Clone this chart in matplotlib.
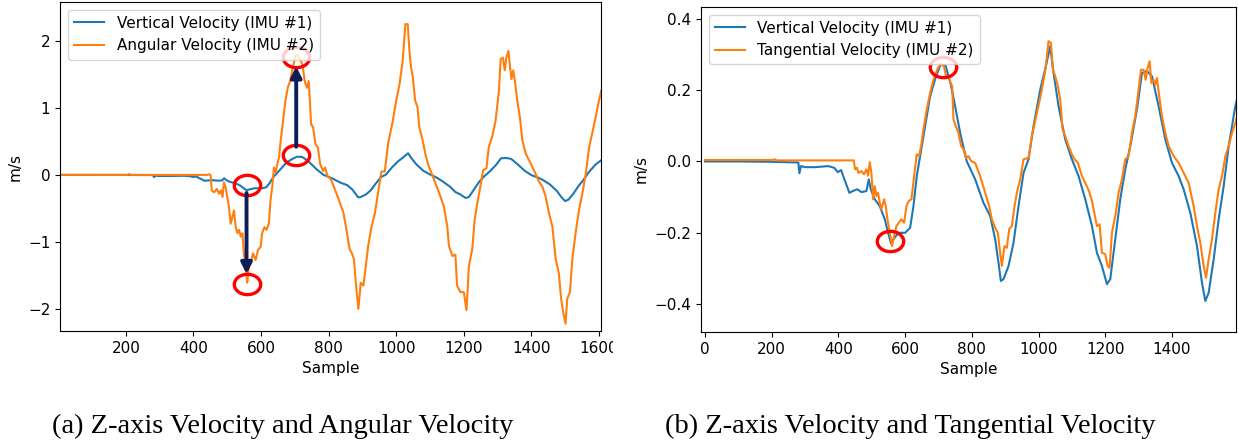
import numpy as np
import matplotlib
matplotlib.use("Agg")
import matplotlib.pyplot as plt
from matplotlib.path import Path
from matplotlib.patches import Rectangle

# Vertical velocity from IMU #1 (shared by both panels)
sample_v = [0, 100, 200, 280, 283, 288, 300, 330, 370, 388, 398, 408, 418, 433, 443, 457,
            469, 484, 491, 497, 509, 524, 539, 549, 558, 565, 580, 600, 615, 625, 635, 645,
            660, 675, 691, 706, 721, 736, 751, 765, 785, 810, 835, 855, 870, 880, 887, 895,
            910, 925, 940, 955, 970, 985, 1005, 1022, 1035, 1045, 1060, 1080, 1100, 1120,
            1140, 1160, 1175, 1190, 1205, 1215, 1230, 1245, 1260, 1275, 1295, 1310, 1325,
            1340, 1360, 1380, 1400, 1420, 1435, 1455, 1475, 1490, 1500, 1510, 1525, 1540,
            1555, 1570, 1590, 1607]
vertical_vel = [0.0, 0.0, -0.001, -0.003, -0.033, -0.013, -0.016, -0.016, -0.013, -0.018,
                -0.03, -0.024, -0.05, -0.088, -0.083, -0.078, -0.086, -0.083, -0.05, -0.078,
                -0.106, -0.125, -0.162, -0.2, -0.23, -0.218, -0.2, -0.2, -0.186, -0.125,
                -0.041, 0.015, 0.099, 0.183, 0.234, 0.271, 0.269, 0.22, 0.15, 0.08, 0.0,
                -0.05, -0.116, -0.153, -0.218, -0.284, -0.335, -0.33, -0.293, -0.228,
                -0.125, -0.032, 0.006, 0.099, 0.201, 0.267, 0.323, 0.248, 0.155, 0.062,
                0.006, -0.041, -0.106, -0.18, -0.256, -0.293, -0.344, -0.33, -0.218,
                -0.106, -0.022, 0.043, 0.146, 0.248, 0.253, 0.239, 0.155, 0.062, -0.004,
                -0.041, -0.078, -0.144, -0.237, -0.34, -0.391, -0.368, -0.274, -0.162,
                -0.069, 0.043, 0.155, 0.22]

# Angular velocity from IMU #2
sample_a = [0, 205, 210, 215, 440, 446, 451, 454, 461, 469, 476, 481, 486, 490, 495, 500,
            505, 510, 515, 520, 525, 530, 535, 540, 545, 549, 554, 559, 564, 569, 576, 584,
            591, 599, 603, 610, 616, 623, 628, 633, 638, 643, 648, 653, 658, 665, 672, 679,
            686, 694, 701, 708, 716, 723, 729, 736, 741, 744, 748, 754, 761, 768, 775, 783,
            790, 797, 805, 815, 830, 844, 854, 862, 868, 875, 881, 888, 895, 903, 910, 917,
            927, 937, 946, 956, 966, 976, 990, 1000, 1010, 1019, 1027, 1034, 1039, 1044,
            1049, 1056, 1063, 1068, 1078, 1088, 1097, 1112, 1127, 1141, 1151, 1156, 1166,
            1175, 1180, 1190, 1200, 1208, 1215, 1225, 1232, 1240, 1249, 1257, 1267, 1274,
            1284, 1294, 1304, 1309, 1316, 1321, 1326, 1332, 1337, 1341, 1346, 1351, 1358,
            1366, 1373, 1383, 1398, 1412, 1422, 1432, 1442, 1452, 1462, 1472, 1481, 1488,
            1494, 1501, 1506, 1514, 1521, 1531, 1541, 1551, 1561, 1571, 1580, 1590, 1600,
            1607]
angular_vel = [0.0, 0.0, 0.012, 0.0, 0.0, 0.01, -0.01, -0.23, -0.26, -0.21, -0.28, -0.23,
               -0.33, -0.11, -0.18, -0.33, -0.48, -0.73, -0.63, -0.53, -0.78, -0.87, -0.82,
               -0.92, -0.87, -1.17, -1.32, -1.61, -1.37, -1.32, -1.17, -1.27, -1.12, -1.07,
               -0.87, -0.78, -0.82, -0.73, -0.38, -0.18, 0.11, 0.04, 0.16, 0.26, 0.51, 0.80,
               1.10, 1.30, 1.40, 1.60, 1.77, 1.79, 1.72, 1.64, 1.40, 1.30, 1.40, 1.15, 0.76,
               0.71, 0.46, 0.41, 0.16, 0.06, 0.11, -0.03, -0.05, -0.17, -0.37, -0.57, -0.86,
               -1.11, -1.16, -1.26, -1.65, -2.0, -1.61, -1.65, -1.36, -1.06, -0.77, -0.57,
               -0.27, 0.05, 0.05, 0.47, 0.81, 1.11, 1.36, 1.70, 2.25, 2.25, 1.85, 1.6, 1.46,
               1.11, 1.01, 0.72, 0.52, 0.27, 0.12, -0.07, -0.27, -0.47, -0.77, -1.06, -1.21,
               -1.19, -1.65, -1.75, -1.75, -2.02, -1.36, -1.11, -0.67, -0.42, -0.17, 0.07,
               0.10, 0.42, 0.57, 0.81, 1.26, 1.73, 1.75, 1.56, 1.75, 1.85, 1.6, 1.43, 1.56,
               1.41, 1.11, 0.86, 0.52, 0.32, 0.17, 0.02, -0.10, -0.17, -0.32, -0.57, -0.77,
               -1.26, -1.46, -1.85, -2.05, -2.22, -1.85, -1.75, -1.26, -0.86, -0.52, -0.27,
               0.02, 0.42, 0.62, 0.86, 1.11, 1.26]

# Tangential velocity from IMU #2
sample_t = [0, 200, 210, 215, 446, 450, 456, 460, 469, 477, 484, 489, 494, 499, 504, 509,
            514, 519, 524, 529, 537, 542, 547, 554, 561, 567, 574, 581, 589, 597, 604, 611,
            619, 627, 635, 642, 648, 655, 665, 675, 685, 696, 706, 716, 723, 731, 736, 741,
            745, 752, 760, 768, 775, 782, 790, 798, 810, 825, 840, 852, 860, 870, 878, 885,
            890, 898, 905, 912, 920, 928, 935, 945, 955, 970, 980, 995, 1008, 1020, 1030,
            1037, 1043, 1050, 1058, 1065, 1072, 1080, 1090, 1098, 1108, 1118, 1130, 1140,
            1150, 1160, 1165, 1175, 1183, 1190, 1200, 1207, 1213, 1220, 1230, 1240, 1250,
            1260, 1270, 1280, 1290, 1300, 1307, 1315, 1321, 1327, 1333, 1338, 1345, 1350,
            1355, 1363, 1370, 1380, 1390, 1405, 1420, 1435, 1450, 1465, 1475, 1485, 1495,
            1502, 1510, 1520, 1530, 1540, 1550, 1560, 1570, 1580, 1590, 1600]
tangential_vel = [0.004, 0.004, 0.006, 0.003, 0.003, -0.022, -0.018, -0.032, -0.027, -0.036,
                  -0.022, -0.04, -0.002, -0.032, -0.106, -0.069, -0.097, -0.088, -0.116,
                  -0.134, -0.106, -0.125, -0.162, -0.2, -0.237, -0.209, -0.181, -0.172,
                  -0.162, -0.172, -0.125, -0.111, -0.106, -0.041, 0.02, 0.015, 0.043, 0.09,
                  0.146, 0.192, 0.229, 0.257, 0.274, 0.267, 0.239, 0.234, 0.22, 0.211, 0.118,
                  0.099, 0.08, 0.043, 0.034, 0.01, 0.015, 0.001, -0.004, -0.041, -0.088,
                  -0.125, -0.162, -0.186, -0.2, -0.256, -0.293, -0.237, -0.242, -0.19,
                  -0.181, -0.125, -0.088, -0.05, 0.006, 0.01, 0.071, 0.136, 0.192, 0.253,
                  0.337, 0.332, 0.257, 0.239, 0.211, 0.174, 0.09, 0.071, 0.043, 0.024, 0.006,
                  -0.004, -0.041, -0.06, -0.08, -0.11, -0.134, -0.181, -0.176, -0.256,
                  -0.26, -0.293, -0.298, -0.2, -0.153, -0.088, -0.05, 0.006, 0.015, 0.08,
                  0.127, 0.201, 0.257, 0.257, 0.229, 0.262, 0.281, 0.22, 0.229, 0.215, 0.234,
                  0.174, 0.127, 0.08, 0.043, 0.015, -0.004, -0.032, -0.06, -0.125, -0.181,
                  -0.228, -0.293, -0.326, -0.274, -0.218, -0.144, -0.078, -0.041, 0.015,
                  0.043, 0.08, 0.108, 0.14]

# highlighted points (sample, value)
marks_a = [(557, -0.15), (557, -1.63), (704, 0.29), (704, 1.76)]
marks_t = [(554, -0.223), (714, 0.266)]
# arrows from vertical velocity to angular velocity: (sample, start, end)
arrows_a = [(557, -0.27, -1.48), (704, 0.42, 1.62)]

captions = ["(a) Z-axis Velocity and Angular Velocity",
            "(b) Z-axis Velocity and Tangential Velocity"]

plt.rcParams["font.size"] = 11

# slightly wide ellipse used as the ring marker
t = np.linspace(0, 2 * np.pi, 64)
ring = Path(np.column_stack([1.3 * np.cos(t), np.sin(t)]), closed=True)
navy = "#0c1d5a"

fig = plt.figure(figsize=(12.38, 4.42), dpi=100)
ax1 = fig.add_axes([0.04847, 0.2511, 0.437, 0.7443])
ax2 = fig.add_axes([0.5662, 0.2489, 0.4322, 0.7353])

# (a) vertical vs angular
ax1.plot(sample_v, vertical_vel, color="C0", lw=1.5, label="Vertical Velocity (IMU #1)")
ax1.plot(sample_a, angular_vel, color="C1", lw=1.5, label="Angular Velocity (IMU #2)")
for x, y0, y1 in arrows_a:
    ax1.annotate("", xy=(x, y1), xytext=(x, y0),
                 arrowprops=dict(arrowstyle="-|>", color=navy, lw=2.8, mutation_scale=16,
                                 shrinkA=0, shrinkB=0))
mx, my = zip(*marks_a)
ax1.plot(mx, my, ls="none", marker=ring, ms=19, mfc="none", mec="red", mew=2.4)
ax1.set_xlim(5, 1606)
ax1.set_ylim(-2.33, 2.58)
ax1.set_xticks(range(200, 1601, 200))
ax1.set_yticks([-2, -1, 0, 1, 2])
ax1.set_xlabel("Sample")
ax1.set_ylabel("m/s")
ax1.legend(loc="upper left")

# the left panel is cut just after its last tick label
cut = Rectangle((0, 0), 613 / 1238, 1, transform=fig.transFigure, visible=False)
fig.add_artist(cut)
for lbl in ax1.get_xticklabels():
    lbl.set_clip_path(cut)

# (b) vertical vs tangential
ax2.plot(sample_v, vertical_vel, color="C0", lw=1.5, label="Vertical Velocity (IMU #1)")
ax2.plot(sample_t, tangential_vel, color="C1", lw=1.5, label="Tangential Velocity (IMU #2)")
mx, my = zip(*marks_t)
ax2.plot(mx, my, ls="none", marker=ring, ms=19, mfc="none", mec="red", mew=2.4)
ax2.set_xlim(-12, 1592)
ax2.set_ylim(-0.478, 0.433)
ax2.set_xticks(range(0, 1401, 200))
ax2.set_yticks([-0.4, -0.2, 0.0, 0.2, 0.4])
ax2.set_xlabel("Sample")
ax2.set_ylabel("m/s")
ax2.legend(loc="upper left")

fig.text(0.228, 0.036, captions[0], ha="center", va="center",
         family="Liberation Serif", fontsize=20.5)
fig.text(0.7355, 0.036, captions[1], ha="center", va="center",
         family="Liberation Serif", fontsize=20.5)

fig.savefig("out.png", dpi=100)
